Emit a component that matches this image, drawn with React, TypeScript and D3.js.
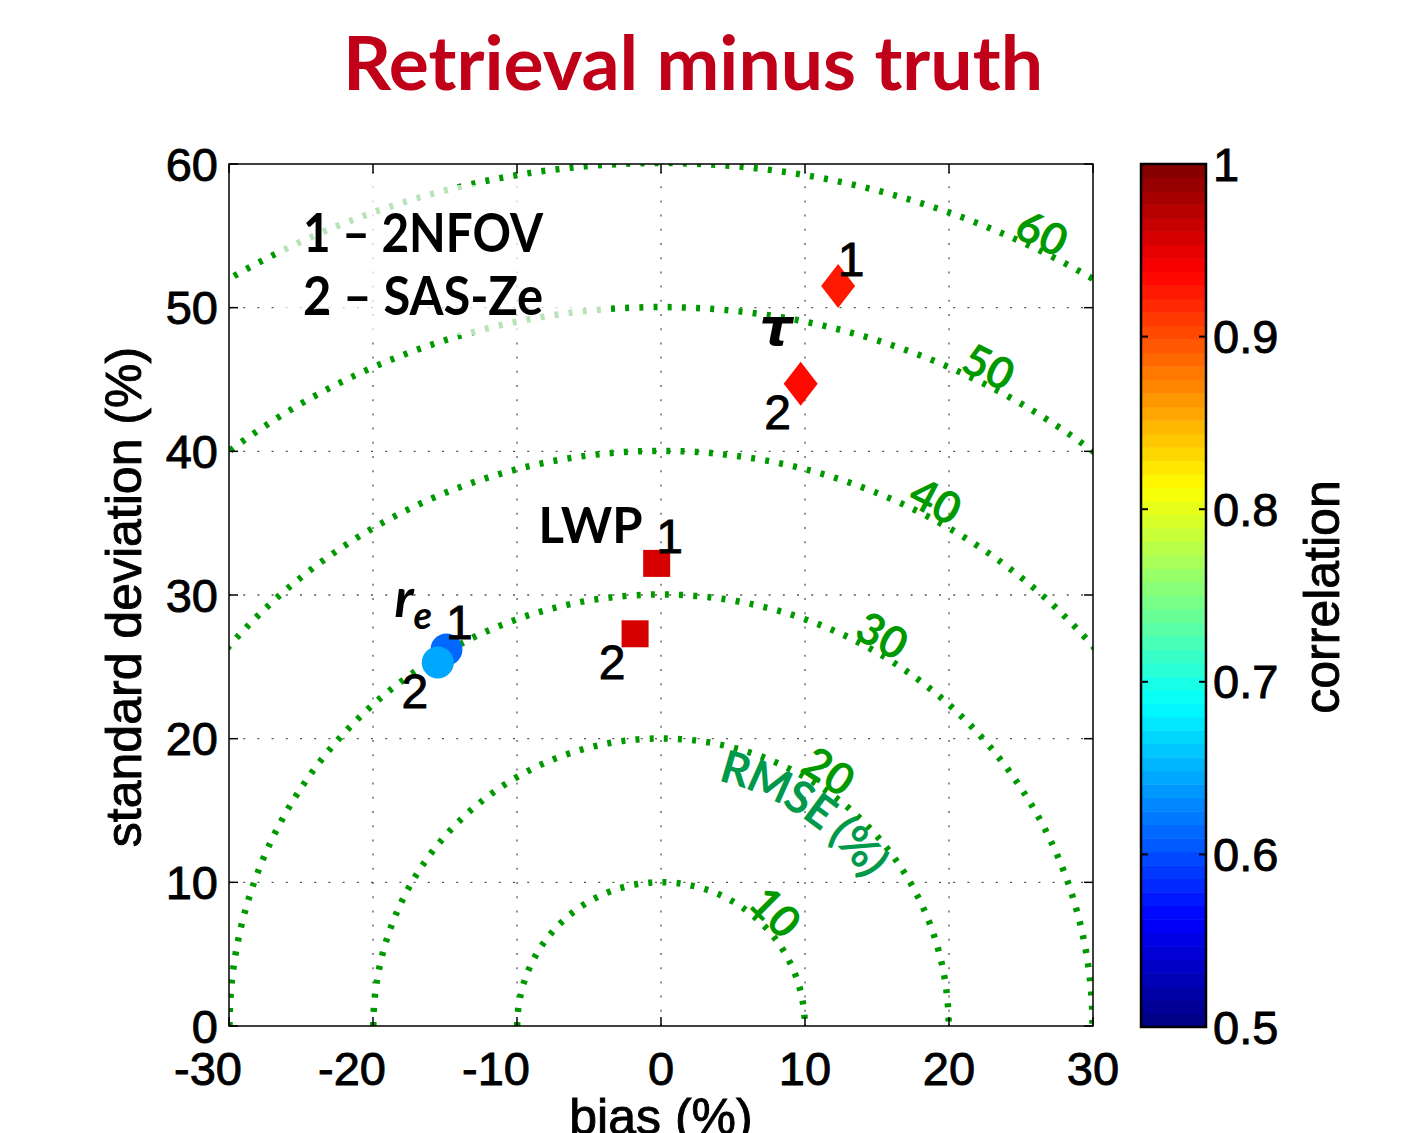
import React, { useEffect, useRef } from "react";
import * as d3 from "d3";

// retrieval minus truth, per product (tau, LWP, r_e) and method (1 = 2NFOV, 2 = SAS-Ze)
const pointProduct = ["tau", "tau", "LWP", "LWP", "re", "re"];
const pointMethod = ["1", "2", "1", "2", "1", "2"];
const biasPct = [12.3, 9.7, -0.3, -1.8, -14.9, -15.5];
const stdPct = [51.5, 44.7, 32.2, 27.3, 26.2, 25.3];
const correlation = [0.925, 0.93, 0.957, 0.96, 0.611, 0.641];

// product name annotations, placed in data units
const productKeys = ["tau", "LWP", "re"];
const productLabelBias = [8.0, -4.9, -17.2];
const productLabelStd = [47.4, 33.6, 28.5];

const rmseLevels = [10, 20, 30, 40, 50, 60];
const xTicks = [-30, -20, -10, 0, 10, 20, 30];
const yTicks = [0, 10, 20, 30, 40, 50, 60];
const corrTicks = [0.5, 0.6, 0.7, 0.8, 0.9, 1];
const legendLines = ["1 \u2013 2NFOV", "2 \u2013 SAS-Ze"];

const jet = (t: number) => {
  const c = (v: number) => Math.round(255 * Math.max(0, Math.min(1, v)));
  return `rgb(${c(1.5 - Math.abs(4 * t - 3))},${c(1.5 - Math.abs(4 * t - 2))},${c(
    1.5 - Math.abs(4 * t - 1)
  )})`;
};

export default function App() {
  const ref = useRef<SVGSVGElement>(null);

  useEffect(() => {
    const svg = d3.select(ref.current);
    svg.selectAll("*").remove();

    const W = 1403;
    const H = 1133;
    const left = 229,
      right = 1093,
      top = 164,
      bottom = 1026;
    const tickFont = "'Liberation Sans', Arial, sans-serif";
    const humanist = "Lato, 'Open Sans', sans-serif";
    const green = "#009900";

    svg.attr("width", W).attr("height", H);

    const x = d3.scaleLinear().domain([-30, 30]).range([left, right]);
    const y = d3.scaleLinear().domain([0, 60]).range([bottom, top]);
    const nLevels = 64;
    const corrT = (c: number) => (c - 0.5) / 0.5;
    const corrColor = (c: number) => {
      const i = Math.min(nLevels - 1, Math.floor(corrT(c) * nLevels));
      return jet((i + 0.5) / nLevels);
    };

    // heavier helvetica-like text
    const heavy = (sel: any) =>
      sel
        .attr("font-family", tickFont)
        .attr("fill", "#000")
        .attr("stroke", "#000")
        .attr("stroke-width", 0.9)
        .attr("paint-order", "stroke");

    // title
    svg
      .append("text")
      .attr("x", 693)
      .attr("y", 90)
      .attr("text-anchor", "middle")
      .attr("font-family", humanist)
      .attr("font-weight", "bold")
      .attr("font-size", 74)
      .attr("fill", "#c00018")
      .attr("textLength", 700)
      .attr("lengthAdjust", "spacingAndGlyphs")
      .text("Retrieval minus truth");

    svg
      .append("defs")
      .append("clipPath")
      .attr("id", "plotclip")
      .append("rect")
      .attr("x", left)
      .attr("y", top)
      .attr("width", right - left)
      .attr("height", bottom - top);

    // grid
    const grid = svg.append("g").attr("stroke", "#555").attr("stroke-width", 1.3).attr("stroke-dasharray", "2 12.2");
    xTicks.slice(1, -1).forEach((t) => {
      grid.append("line").attr("x1", x(t)).attr("x2", x(t)).attr("y1", bottom).attr("y2", top);
    });
    yTicks.slice(1, -1).forEach((t) => {
      grid.append("line").attr("x1", left).attr("x2", right).attr("y1", y(t)).attr("y2", y(t));
    });

    // RMSE arcs
    const cx = x(0),
      cy = y(0);
    const k = (y(0) - y(1) + x(1) - x(0)) / 2;
    const arcs = svg.append("g").attr("clip-path", "url(#plotclip)");
    rmseLevels.forEach((r) => {
      const R = r * k;
      arcs
        .append("path")
        .attr("d", `M${cx - R},${cy} A${R},${R} 0 0 1 ${cx + R},${cy}`)
        .attr("fill", "none")
        .attr("stroke", green)
        .attr("stroke-width", 6.5)
        .attr("stroke-dasharray", "4 10.2");
    });

    rmseLevels.forEach((r) => {
      const lx = 0.37 * r + 4.3;
      const lr = r + 1.3;
      const ly = Math.sqrt(lr * lr - lx * lx);
      const ang = (Math.atan2(ly, lx) * 180) / Math.PI;
      svg
        .append("text")
        .attr("transform", `translate(${x(lx)},${y(ly)}) rotate(${90 - ang})`)
        .attr("text-anchor", "middle")
        .attr("dominant-baseline", "central")
        .attr("font-family", humanist)
        .attr("font-weight", "bold")
        .attr("font-size", 44)
        .attr("fill", green)
        .text(String(r));
    });

    // RMSE (%) label on a circular path
    const Rl = 17.5 * k;
    const a1 = (77 * Math.PI) / 180,
      a2 = (20 * Math.PI) / 180;
    svg
      .append("path")
      .attr("id", "rmsepath")
      .attr("fill", "none")
      .attr(
        "d",
        `M${cx + Rl * Math.cos(a1)},${cy - Rl * Math.sin(a1)} A${Rl},${Rl} 0 0 1 ${cx + Rl * Math.cos(a2)},${
          cy - Rl * Math.sin(a2)
        }`
      );
    svg
      .append("text")
      .attr("font-family", humanist)
      .attr("font-weight", "bold")
      .attr("font-size", 45)
      .attr("fill", "#00994c")
      .append("textPath")
      .attr("href", "#rmsepath")
      .attr("textLength", 182)
      .text("RMSE (%)");

    // legend box
    svg
      .append("rect")
      .attr("x", 283)
      .attr("y", 185)
      .attr("width", 322)
      .attr("height", 150)
      .attr("fill", "white")
      .attr("opacity", 0.72);
    legendLines.forEach((s, i) => {
      svg
        .append("text")
        .attr("x", 303)
        .attr("y", 252 + i * 63)
        .attr("font-family", humanist)
        .attr("font-weight", "bold")
        .attr("font-size", 54)
        .attr("fill", "#000")
        .attr("textLength", 240)
        .attr("lengthAdjust", "spacingAndGlyphs")
        .text(s);
    });

    // markers
    const pts = biasPct.map((b, i) => ({
      b,
      s: stdPct[i],
      c: correlation[i],
      p: pointProduct[i],
      m: pointMethod[i],
    }));
    const mk = svg.append("g");
    pts.forEach((d) => {
      const px = x(d.b),
        py = y(d.s);
      const fill = corrColor(d.c);
      if (d.p === "tau") {
        mk.append("path")
          .attr("d", `M${px},${py - 22} L${px + 17},${py} L${px},${py + 22} L${px - 17},${py} Z`)
          .attr("fill", fill);
      } else if (d.p === "LWP") {
        mk.append("rect")
          .attr("x", px - 13.5)
          .attr("y", py - 13.5)
          .attr("width", 27)
          .attr("height", 27)
          .attr("fill", fill);
      } else {
        mk.append("circle").attr("cx", px).attr("cy", py).attr("r", 16).attr("fill", fill);
      }
      const one = d.m === "1";
      svg
        .append("text")
        .attr("x", px + (one ? 13 : -23))
        .attr("y", py + (one ? -27 : 29))
        .attr("text-anchor", "middle")
        .attr("dominant-baseline", "central")
        .attr("font-size", 48)
        .call(heavy)
        .text(d.m);
    });

    // product labels
    productKeys.forEach((p, i) => {
      const t = svg
        .append("text")
        .attr("x", x(productLabelBias[i]))
        .attr("y", y(productLabelStd[i]))
        .attr("text-anchor", "middle")
        .attr("font-family", humanist)
        .attr("font-weight", "bold")
        .attr("fill", "#000");
      if (p === "tau") {
        t.attr("font-size", 52).attr("font-style", "italic").attr("font-family", "'DejaVu Sans', sans-serif").text("\u03c4");
      } else if (p === "LWP") {
        t.attr("font-size", 49).text("LWP");
      } else {
        t.attr("font-size", 54).attr("font-style", "italic");
        t.append("tspan").text("r");
        t.append("tspan").attr("font-size", 38).attr("dy", 12).text("e");
      }
    });

    // axes box and ticks
    svg
      .append("rect")
      .attr("x", left)
      .attr("y", top)
      .attr("width", right - left)
      .attr("height", bottom - top)
      .attr("fill", "none")
      .attr("stroke", "#000")
      .attr("stroke-width", 1.5);
    const tk = svg.append("g").attr("stroke", "#000").attr("stroke-width", 1.5);
    xTicks.forEach((t) => {
      tk.append("line").attr("x1", x(t)).attr("x2", x(t)).attr("y1", bottom).attr("y2", bottom - 9);
      tk.append("line").attr("x1", x(t)).attr("x2", x(t)).attr("y1", top).attr("y2", top + 9);
      svg
        .append("text")
        .attr("x", x(t) - (t < 0 ? 21 : 0))
        .attr("y", bottom + 59)
        .attr("text-anchor", "middle")
        .attr("font-size", 47)
        .call(heavy)
        .text(String(t));
    });
    yTicks.forEach((t) => {
      tk.append("line").attr("x1", left).attr("x2", left + 9).attr("y1", y(t)).attr("y2", y(t));
      tk.append("line").attr("x1", right).attr("x2", right - 9).attr("y1", y(t)).attr("y2", y(t));
      svg
        .append("text")
        .attr("x", left - 11)
        .attr("y", y(t))
        .attr("text-anchor", "end")
        .attr("dominant-baseline", "central")
        .attr("font-size", 47)
        .call(heavy)
        .text(String(t));
    });

    svg
      .append("text")
      .attr("x", x(0))
      .attr("y", 1134)
      .attr("text-anchor", "middle")
      .attr("font-size", 50)
      .call(heavy)
      .text("bias (%)");
    svg
      .append("text")
      .attr("transform", `translate(141,597) rotate(-90)`)
      .attr("text-anchor", "middle")
      .attr("font-size", 50)
      .call(heavy)
      .text("standard deviation (%)");

    // colorbar
    const cbL = 1141,
      cbR = 1206;
    const cbY = d3.scaleLinear().domain([0.5, 1]).range([1027, top]);
    const cb = svg.append("g");
    d3.range(nLevels).forEach((i) => {
      const v0 = 0.5 + (i / nLevels) * 0.5;
      const v1 = 0.5 + ((i + 1) / nLevels) * 0.5;
      cb.append("rect")
        .attr("x", cbL)
        .attr("y", cbY(v1))
        .attr("width", cbR - cbL)
        .attr("height", cbY(v0) - cbY(v1) + 0.5)
        .attr("fill", jet((i + 0.5) / nLevels));
    });
    cb.append("rect")
      .attr("x", cbL)
      .attr("y", top)
      .attr("width", cbR - cbL)
      .attr("height", 1027 - top)
      .attr("fill", "none")
      .attr("stroke", "#000")
      .attr("stroke-width", 2.5);
    corrTicks.forEach((t) => {
      cb.append("line").attr("x1", cbL).attr("x2", cbL + 7).attr("y1", cbY(t)).attr("y2", cbY(t)).attr("stroke", "#000").attr("stroke-width", 2);
      cb.append("line").attr("x1", cbR).attr("x2", cbR - 7).attr("y1", cbY(t)).attr("y2", cbY(t)).attr("stroke", "#000").attr("stroke-width", 2);
      svg
        .append("text")
        .attr("x", 1213)
        .attr("y", cbY(t))
        .attr("dominant-baseline", "central")
        .attr("font-size", 47)
        .call(heavy)
        .text(String(t));
    });
    svg
      .append("text")
      .attr("transform", `translate(1339,597) rotate(-90)`)
      .attr("text-anchor", "middle")
      .attr("font-size", 50)
      .call(heavy)
      .text("correlation");
  }, []);

  return <svg ref={ref} style={{ position: "absolute", left: 0, top: 0, background: "#fff" }}></svg>;
}
